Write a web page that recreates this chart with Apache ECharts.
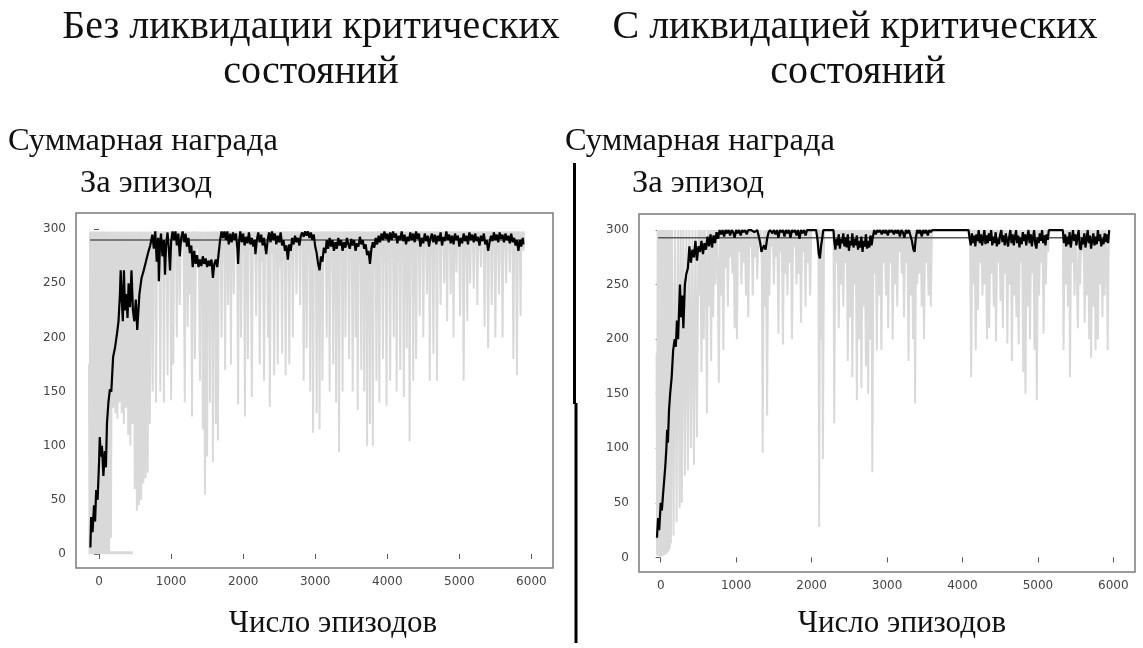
<!DOCTYPE html>
<html><head><meta charset="utf-8">
<script src="https://cdn.jsdelivr.net/npm/echarts@6/dist/echarts.min.js"></script>
<style>html,body{margin:0;padding:0;background:#fff}#c{width:1143px;height:648px}</style>
</head><body><div id="c"></div>
<script>
// ---------- tick labels ----------
const xTicks = [0, 1000, 2000, 3000, 4000, 5000, 6000];
const yTicks = [0, 50, 100, 150, 200, 250, 300];

// ---------- texts ----------
const titleL = ['Без ликвидации критических', 'состояний'];
const titleR = ['С ликвидацией критических', 'состояний'];
const yName = ['Суммарная награда', 'За эпизод'];
const xName = 'Число эпизодов';

// ---------- left panel: raw reward per episode [episode, reward] ----------
const rawL = [
[-140,175],[-132,0],[-124,298],[-116,0],[-108,298],[-100,0],[-92,298],[-84,2],[-76,298],[-68,0],[-60,298],[-52,1],[-44,298],[-36,0],[-28,298],[-20,0],[-12,298],[-4,2],[4,298],[12,0],[20,298],[28,0],[36,298],[44,1],[52,298],[60,0],[68,298],[76,0],[84,298],[92,2],[100,298],[108,0],[116,298],[124,0],[132,298],[140,1],[150,298],
[165,15],[180,298],[195,135],[210,298],[225,130],[240,298],[255,125],[270,298],[285,140],[300,298],[315,130],[330,298],[345,120],[360,298],[375,135],[390,298],[405,110],[420,298],[435,100],[450,298],[465,120],[480,298],
[495,60],[510,298],[525,40],[540,298],[555,45],[570,298],[585,50],[600,298],[615,65],[630,298],[645,70],[660,298],[675,75],[690,298],[705,120],[720,298],
[733,280],[745,150],[757,298],[768,282],[779,298],[790,140],[805,298],[820,275],[835,298],[850,150],[862,298],[875,285],[888,298],[900,140],[912,298],[925,272],[937,298],[950,165],[962,298],[975,280],[987,298],[1000,142],[1015,298],[1030,175],[1042,298],[1055,284],[1067,298],[1080,200],[1090,298],[1100,276],[1110,298],[1120,230],[1137,298],[1155,286],[1172,298],[1190,140],[1200,298],[1210,280],[1220,298],[1230,210],[1245,298],[1260,240],[1275,298],[1290,127],[1300,298],[1310,275],[1320,298],[1330,180],[1347,298],[1365,282],[1382,298],[1400,160],[1410,298],[1420,255],[1430,298],[1440,115],[1455,298],[1470,55],[1485,298],[1500,90],[1510,298],[1520,270],[1530,298],[1540,140],[1550,298],[1560,230],[1570,298],[1580,85],[1590,298],[1600,275],[1610,298],[1620,120],[1635,298],[1650,105],[1662,298],[1675,280],[1687,298],[1700,200],[1712,298],[1725,285],[1737,298],[1750,170],[1760,298],[1770,278],[1780,298],[1790,230],[1800,298],[1810,286],[1820,298],[1830,175],[1840,298],[1850,280],[1860,298],[1870,240],[1885,298],[1900,284],[1915,298],[1930,138],[1940,298],[1950,276],[1960,298],[1970,200],[1985,298],[2000,280],[2012,298],[2025,127],[2035,298],[2045,275],[2055,298],[2065,180],[2077,298],[2090,284],[2105,298],[2120,145],[2135,298],[2150,278],[2165,298],[2180,220],[2192,298],[2205,286],[2217,298],[2230,175],[2245,298],[2260,270],[2275,298],[2290,160],[2305,298],[2320,282],[2332,298],[2345,200],[2358,298],[2370,136],[2385,298],[2400,278],[2415,298],[2430,165],[2442,298],[2455,272],[2467,298],[2480,175],[2495,298],[2510,265],[2525,298],[2540,185],[2552,298],[2565,280],[2577,298],[2590,165],[2602,298],[2615,276],[2627,298],[2640,175],[2652,298],[2665,284],[2677,298],[2690,200],[2702,298],[2715,286],[2727,298],[2740,240],[2752,298],[2765,288],[2777,298],[2790,230],[2802,298],[2815,282],[2827,298],[2840,160],[2850,298],[2860,270],[2870,298],[2880,190],[2892,298],[2905,280],[2917,298],[2930,150],[2940,298],[2950,265],[2960,298],[2970,112],[2982,298],[2995,275],[3007,298],[3020,130],[3030,298],[3040,255],[3050,298],[3060,115],[3070,298],[3080,280],[3090,298],[3100,160],[3115,298],[3130,284],[3145,298],[3160,200],[3170,298],[3180,282],[3190,298],[3200,150],[3212,298],[3225,272],[3237,298],[3250,175],[3260,298],[3270,278],[3280,298],[3290,140],[3300,298],[3310,262],[3320,298],[3330,94],[3342,298],[3355,280],[3367,298],[3380,150],[3390,298],[3400,270],[3410,298],[3420,200],[3432,298],[3445,285],[3457,298],[3470,180],[3482,298],[3495,272],[3507,298],[3520,150],[3530,298],[3540,280],[3550,298],[3560,200],[3568,298],[3575,283],[3582,298],[3590,133],[3602,298],[3615,268],[3627,298],[3640,170],[3650,298],[3660,280],[3670,298],[3680,150],[3690,298],[3700,262],[3710,298],[3720,100],[3730,298],[3740,245],[3750,298],[3760,120],[3770,298],[3780,275],[3790,298],[3800,100],[3812,298],[3825,265],[3837,298],[3850,160],[3860,298],[3870,282],[3880,298],[3890,140],[3902,298],[3915,276],[3927,298],[3940,180],[3952,298],[3965,270],[3977,298],[3990,137],[4002,298],[4015,282],[4027,298],[4040,160],[4052,298],[4065,285],[4077,298],[4090,200],[4100,298],[4110,276],[4120,298],[4130,150],[4142,298],[4155,270],[4167,298],[4180,170],[4192,298],[4205,286],[4217,298],[4230,145],[4240,298],[4250,268],[4260,298],[4270,190],[4280,298],[4290,282],[4300,298],[4310,104],[4322,298],[4335,272],[4347,298],[4360,160],[4370,298],[4380,284],[4390,298],[4400,180],[4412,298],[4425,280],[4437,298],[4450,220],[4462,298],[4475,287],[4487,298],[4500,200],[4512,298],[4525,283],[4537,298],[4550,240],[4560,298],[4570,286],[4580,298],[4590,160],[4602,298],[4615,276],[4627,298],[4640,185],[4652,298],[4665,282],[4677,298],[4690,160],[4702,298],[4715,285],[4727,298],[4740,230],[4752,298],[4765,287],[4777,298],[4790,250],[4800,298],[4810,288],[4820,298],[4830,215],[4842,298],[4855,282],[4867,298],[4880,240],[4890,298],[4900,286],[4910,298],[4920,200],[4930,298],[4940,280],[4950,298],[4960,260],[4972,298],[4985,288],[4997,298],[5010,220],[5022,298],[5035,283],[5047,298],[5060,160],[5072,298],[5085,276],[5097,298],[5110,215],[5120,298],[5130,286],[5140,298],[5150,250],[5162,298],[5175,288],[5187,298],[5200,245],[5212,298],[5225,284],[5237,298],[5250,230],[5262,298],[5275,282],[5287,298],[5300,265],[5312,298],[5325,289],[5337,298],[5350,210],[5362,298],[5375,278],[5387,298],[5400,190],[5412,298],[5425,284],[5437,298],[5450,230],[5462,298],[5475,287],[5487,298],[5500,200],[5512,298],[5525,280],[5537,298],[5550,240],[5562,298],[5575,288],[5587,298],[5600,200],[5612,298],[5625,282],[5637,298],[5650,250],[5662,298],[5675,289],[5687,298],[5700,260],[5712,298],[5725,285],[5737,298],[5750,180],[5762,298],[5775,276],[5787,298],[5800,165],[5812,298],[5825,282],[5837,298],[5850,220],[5860,298],[5870,286],[5880,298],[5890,280],[5900,298]
];
// second raw trace stuck at zero reward early in training
const rawStuckL = [[-125,1],[470,1]];
// moving average
const meanL = [
[-120,6],[-110,34],[-90,20],[-70,45],[-55,30],[-40,59],[-20,50],[0,85],[10,108],[25,90],[40,100],[60,72],[80,95],[95,80],[110,121],[130,140],[150,152],[170,150],[195,182],[220,190],[250,204],[270,215],[290,240],[300,262],[315,235],[330,215],[345,262],[360,225],[380,240],[395,218],[410,250],[430,228],[450,262],[470,225],[490,215],[510,235],[530,207],[560,240],[590,255],[620,262],[650,270],[680,278],[710,285],[740,295],
[760,282],[780,298],[800,270],[820,292],[830,252],[845,285],[860,296],[880,275],[900,290],[915,258],[930,285],[950,297],[970,280],[985,262],[1000,288],[1020,298],[1040,290],[1060,298],[1080,285],[1100,296],[1120,275],[1140,292],[1160,298],[1180,288],[1200,296],[1220,284],[1240,292],[1260,278],[1280,285],[1300,265],[1320,280],[1340,268],[1360,276],[1380,265],[1400,272],[1420,266],[1440,275],[1460,268],[1480,273],[1500,265],[1520,271],[1540,266],[1560,272],[1580,255],[1600,268],[1620,272],[1640,265],[1660,278],[1680,290],[1700,298],[1720,292],[1740,298],[1760,290],[1780,298],[1800,286],[1820,296],[1840,288],[1860,297],[1880,290],[1900,296],[1920,282],[1930,268],[1945,290],[1960,298],[1980,288],[2000,296],[2020,285],[2040,293],[2060,287],[2080,297],[2100,286],[2120,292],[2140,284],[2160,290],[2170,277],[2190,290],[2210,297],[2230,288],[2250,295],[2270,285],[2290,292],[2310,282],[2320,277],[2340,290],[2360,297],[2380,288],[2400,298],[2420,290],[2440,296],[2460,286],[2480,294],[2500,288],[2520,297],[2540,285],[2560,290],[2580,280],[2600,285],[2620,272],[2640,286],[2660,280],[2680,292],[2700,286],[2720,294],[2740,288],[2760,292],[2780,285],[2800,294],[2820,297],[2840,293],[2860,298],[2880,294],[2900,298],[2920,292],[2940,297],[2960,290],[2980,295],[3000,284],[3020,278],[3040,268],[3060,262],[3080,275],[3100,270],[3120,283],[3140,278],[3160,290],[3180,282],[3200,292],[3220,284],[3240,290],[3260,280],[3280,288],[3300,282],[3320,292],[3340,285],[3360,290],[3380,280],[3400,288],[3420,283],[3440,292],[3460,286],[3480,282],[3500,291],[3520,285],[3540,290],[3560,280],[3580,287],[3600,284],[3620,293],[3640,286],[3660,290],[3680,282],[3700,286],[3720,276],[3740,280],[3760,268],[3780,282],[3800,288],[3820,283],[3840,292],[3860,286],[3880,294],[3900,288],[3920,296],[3940,290],[3960,298],[3980,291],[4000,296],[4020,288],[4040,297],[4060,290],[4080,298],[4100,292],[4120,296],[4140,287],[4160,294],[4180,290],[4200,298],[4220,289],[4240,295],[4260,286],[4280,293],[4300,289],[4320,297],[4340,290],[4360,296],[4380,288],[4400,298],[4420,291],[4440,296],[4460,284],[4480,292],[4500,287],[4520,296],[4540,289],[4560,294],[4580,284],[4600,292],[4620,296],[4640,288],[4660,295],[4680,286],[4700,294],[4720,289],[4740,297],[4760,285],[4780,293],[4800,289],[4820,298],[4840,290],[4860,295],[4880,287],[4900,294],[4920,286],[4940,296],[4960,290],[4980,294],[5000,284],[5020,292],[5040,287],[5060,296],[5080,289],[5100,294],[5120,286],[5140,297],[5160,290],[5180,295],[5200,288],[5220,296],[5240,289],[5260,293],[5280,285],[5300,294],[5320,289],[5340,296],[5360,286],[5380,290],[5400,280],[5420,288],[5440,294],[5460,289],[5480,297],[5500,290],[5520,295],[5540,288],[5560,297],[5580,291],[5600,295],[5620,288],[5640,296],[5660,290],[5680,294],[5700,287],[5720,296],[5740,288],[5760,292],[5780,285],[5800,290],[5820,280],[5840,290],[5860,284],[5880,292],[5890,286]
];
const refL = [[-125,290],[5900,290]];

// ---------- right panel ----------
const rawR = [
[-55,187],[-48,2],[-41,300],[-34,1],[-27,300],[-20,2],[-13,300],[-6,0],[1,300],[8,2],[15,300],[22,1],[29,300],[36,3],[43,300],[50,2],[57,300],[64,4],[71,300],[78,3],[85,300],[92,5],[99,300],[106,6],[113,300],[120,8],[128,300],[135,13],[150,300],[170,20],[190,300],[210,32],[230,300],[250,45],[265,300],[280,50],[300,300],[320,75],[340,300],[360,80],[380,300],[400,100],[420,300],[440,85],[460,300],[480,110],[500,300],
[510,240],[525,300],[540,170],[555,300],[570,200],[585,300],[600,260],[612,132],[625,300],[640,230],[655,300],[668,180],[680,300],[695,220],[710,300],[725,250],[740,300],[755,270],[770,160],[785,300],[800,240],[815,300],[830,190],[845,300],[860,265],[875,300],[890,230],[905,300],[920,275],[935,300],[950,260],[965,300],[980,210],[995,300],[1010,200],[1025,300],[1040,280],[1055,300],[1070,250],[1085,300],[1100,270],[1115,300],[1130,240],[1145,300],[1160,220],[1175,300],[1190,285],[1205,300],[1220,240],[1235,300],[1250,275],[1265,300],[1280,255],[1295,300],[1310,285],[1325,300],[1340,270],[1352,96],[1365,300],[1380,230],[1395,300],[1410,130],[1425,300],[1440,240],[1455,300],[1470,285],[1485,300],[1500,250],[1515,300],[1530,275],[1545,300],[1560,205],[1575,300],[1590,280],[1605,300],[1620,195],[1635,300],[1650,260],[1665,300],[1680,240],[1695,300],[1710,270],[1725,300],[1740,200],[1755,300],[1770,285],[1785,300],[1800,250],[1815,300],[1830,260],[1845,300],[1860,215],[1875,300],[1890,280],[1905,300],[1920,230],[1935,300],[1950,270],[1965,300],[1980,240],[1995,300],[2090,300],[2100,28],[2112,300],[2125,200],[2138,300],[2150,90],[2165,300],[2290,300],[2300,123],[2315,300],[2330,270],[2345,300],[2360,210],[2375,300],[2390,250],[2405,300],[2420,230],[2435,300],[2450,270],[2465,300],[2480,180],[2495,300],[2510,220],[2525,300],[2540,165],[2555,300],[2570,250],[2585,300],[2600,144],[2615,300],[2630,200],[2645,300],[2660,155],[2675,300],[2690,230],[2705,300],[2720,175],[2735,300],[2750,150],[2765,300],[2780,200],[2795,300],[2805,78],[2820,300],[2835,260],[2850,300],[2865,190],[2880,300],[2895,240],[2910,300],[2925,190],[2940,300],[2955,270],[2970,300],[2985,240],[3000,300],[3015,210],[3030,300],[3045,270],[3060,300],[3075,200],[3090,300],[3105,250],[3120,300],[3135,230],[3150,300],[3165,280],[3180,300],[3195,260],[3210,300],[3225,220],[3240,300],[3255,270],[3270,300],[3285,180],[3300,300],[3315,240],[3330,300],[3345,200],[3360,300],[3372,141],[3385,300],[3400,250],[3415,300],[3430,260],[3445,300],[3460,230],[3475,300],[3490,200],[3505,300],[3520,270],[3535,300],[3550,240],[3565,300],[3580,230],[3595,300],[3610,300],[4100,300],[4115,165],[4130,300],[4145,250],[4160,300],[4175,190],[4190,300],[4205,227],[4220,300],[4235,270],[4250,300],[4265,240],[4280,300],[4295,250],[4310,300],[4325,200],[4340,300],[4355,210],[4370,300],[4385,260],[4400,300],[4415,230],[4430,300],[4445,198],[4460,300],[4475,270],[4490,300],[4505,235],[4520,300],[4535,210],[4550,300],[4565,260],[4580,300],[4595,196],[4610,300],[4625,250],[4640,300],[4655,180],[4670,300],[4685,240],[4700,300],[4715,220],[4730,300],[4745,195],[4760,300],[4775,270],[4790,300],[4805,170],[4820,300],[4835,150],[4850,300],[4865,230],[4880,300],[4895,200],[4910,300],[4925,260],[4940,300],[4955,190],[4970,300],[4985,144],[5000,300],[5015,240],[5030,300],[5045,270],[5060,300],[5075,205],[5090,300],[5105,250],[5120,300],[5135,280],[5150,300],[5330,300],[5340,190],[5355,300],[5370,250],[5385,300],[5400,230],[5415,300],[5425,165],[5440,300],[5455,270],[5470,300],[5485,240],[5500,300],[5515,260],[5530,210],[5545,300],[5560,250],[5575,300],[5590,280],[5605,300],[5620,215],[5635,300],[5650,240],[5665,300],[5680,200],[5695,300],[5705,183],[5720,300],[5735,230],[5750,300],[5765,190],[5780,300],[5795,200],[5810,300],[5825,250],[5840,300],[5855,220],[5870,300],[5885,240],[5900,300],[5915,270],[5925,190],[5940,300]
];
const meanR = [
[-50,18],[-35,36],[-20,25],[0,50],[15,43],[30,57],[45,70],[60,83],[75,100],[85,117],[95,105],[110,135],[125,150],[145,165],[165,190],[185,200],[200,193],[215,217],[230,200],[255,250],[270,220],[285,240],[300,210],[320,250],[340,260],[360,265],[380,285],[400,270],[420,282],[440,275],[460,290],[480,272],[500,285],[520,280],[540,290],[560,278],[580,288],[600,282],[620,294],[640,285],[660,296],[680,284],
[700,295],[720,288],[740,298],[760,292],[780,300],[800,296],[820,300],[840,294],[860,300],[880,297],[900,300],[920,295],[940,300],[960,298],[980,293],[1000,300],[1020,297],[1040,300],[1060,295],[1080,300],[1100,298],[1120,300],[1140,296],[1160,300],[1200,300],[1240,298],[1280,300],[1300,294],[1320,288],[1335,280],[1350,283],[1370,286],[1390,282],[1410,292],[1430,298],[1450,300],[1480,297],[1500,300],[1520,296],[1540,300],[1560,293],[1580,300],[1600,298],[1620,300],[1640,294],[1660,300],[1680,297],[1700,300],[1720,293],[1740,300],[1760,298],[1780,300],[1800,295],[1820,300],[1840,292],[1860,300],[1880,297],[1900,300],[1920,295],[1940,300],[1980,300],[2060,300],[2080,290],[2095,278],[2110,274],[2125,285],[2140,292],[2155,300],[2290,300],[2300,290],[2315,282],[2330,292],[2345,286],[2360,296],[2375,283],[2390,292],[2405,288],[2420,297],[2435,285],[2450,293],[2465,284],[2480,296],[2495,281],[2510,290],[2525,286],[2540,297],[2555,284],[2570,292],[2585,286],[2600,295],[2615,282],[2630,290],[2645,284],[2660,294],[2675,280],[2690,290],[2705,285],[2720,296],[2735,283],[2750,290],[2765,284],[2780,295],[2795,286],[2810,293],[2830,300],[2850,296],[2870,300],[2890,298],[2910,300],[2930,296],[2950,300],[2970,297],[2990,300],[3010,295],[3030,300],[3050,298],[3070,300],[3090,296],[3110,300],[3130,297],[3150,300],[3170,294],[3190,300],[3210,298],[3230,293],[3250,300],[3270,297],[3290,300],[3310,295],[3330,290],[3350,282],[3365,280],[3380,292],[3400,300],[3420,297],[3440,300],[3460,294],[3480,300],[3500,297],[3520,300],[3540,295],[3560,300],[3580,298],[3600,300],[4080,300],
[4095,292],[4110,286],[4125,297],[4140,288],[4155,295],[4170,285],[4185,296],[4200,290],[4215,300],[4230,288],[4245,296],[4260,286],[4275,293],[4290,300],[4305,287],[4320,295],[4335,288],[4350,297],[4365,290],[4380,300],[4395,286],[4410,294],[4425,288],[4440,298],[4455,285],[4470,292],[4485,287],[4500,296],[4515,300],[4530,289],[4545,295],[4560,286],[4575,297],[4590,290],[4605,285],[4620,294],[4635,300],[4650,288],[4665,296],[4680,286],[4695,293],[4710,300],[4725,288],[4740,295],[4755,284],[4770,293],[4785,287],[4800,298],[4815,290],[4830,296],[4845,286],[4860,294],[4875,300],[4890,288],[4905,296],[4920,285],[4935,293],[4950,300],[4965,287],[4980,283],[4995,293],[5010,288],[5025,297],[5040,290],[5055,300],[5070,288],[5085,295],[5100,286],[5115,296],[5130,291],[5145,300],[5160,300],[5330,300],
[5345,288],[5360,296],[5375,285],[5390,294],[5405,287],[5420,298],[5435,284],[5450,292],[5465,300],[5480,290],[5495,296],[5510,286],[5525,294],[5540,300],[5555,284],[5570,282],[5585,293],[5600,287],[5615,297],[5630,284],[5645,292],[5660,300],[5675,288],[5690,295],[5705,283],[5720,290],[5735,297],[5750,286],[5765,294],[5780,287],[5795,300],[5810,290],[5825,296],[5840,285],[5855,292],[5870,287],[5885,297],[5900,289],[5915,296],[5930,288],[5945,300]
];
const refR = [[-35,293],[5945,293]];

// ---------- chart ----------
const chart = echarts.init(document.getElementById('c'), null, {renderer: 'canvas'});
const serif = '"Liberation Serif", "Times New Roman", serif';
const textCol = '#111';

function xAxisCfg(g, min, max) {
  return {
    gridIndex: g, type: 'value', min: min, max: max,
    axisLine: {show: false},
    axisTick: {show: true, customValues: xTicks, length: 5, lineStyle: {color: '#555', width: 1}},
    axisLabel: {customValues: xTicks, formatter: function (v) { return String(v); },
                color: '#444', fontSize: 12, fontFamily: 'DejaVu Sans', margin: 8},
    splitLine: {show: false}
  };
}
function yAxisCfg(g, min, max) {
  return {
    gridIndex: g, type: 'value', min: min, max: max,
    axisLine: {show: false},
    axisTick: {show: true, customValues: yTicks, length: 5, lineStyle: {color: '#555', width: 1}},
    axisLabel: {customValues: yTicks, formatter: function (v) { return String(v); },
                color: '#444', fontSize: 12, fontFamily: 'DejaVu Sans', margin: 10},
    splitLine: {show: false}
  };
}
function lineSeries(g, data, color, width, z) {
  return {
    type: 'line', xAxisIndex: g, yAxisIndex: g, data: data,
    symbol: 'none', showSymbol: false, silent: true, z: z,
    lineStyle: {color: color, width: width, join: 'bevel'},
    animation: false
  };
}
function txt(text, x, y, size, align) {
  return {
    type: 'text', x: x, y: y, silent: true,
    style: {text: text, fill: textCol, font: size + 'px ' + serif,
            align: align, textAlign: align, verticalAlign: 'middle', textVerticalAlign: 'middle'}
  };
}

const option = {
  backgroundColor: '#ffffff',
  animation: false,
  grid: [
    {left: 76, top: 213, width: 477, height: 355, show: true, borderColor: '#7a7a7a', borderWidth: 1.5, backgroundColor: 'transparent'},
    {left: 639, top: 214, width: 496, height: 358, show: true, borderColor: '#7a7a7a', borderWidth: 1.5, backgroundColor: 'transparent'}
  ],
  xAxis: [xAxisCfg(0, -320, 6300), xAxisCfg(1, -288, 6287)],
  yAxis: [yAxisCfg(0, -13, 315), yAxisCfg(1, -13.4, 314.7)],
  series: [
    lineSeries(0, rawL, '#d9d9d9', 2, 1),
    lineSeries(0, rawStuckL, '#d9d9d9', 3, 1),
    lineSeries(0, refL, '#5a5a5a', 1.5, 2),
    lineSeries(0, meanL, '#000000', 2.2, 3),
    lineSeries(1, rawR, '#d9d9d9', 2, 1),
    lineSeries(1, refR, '#5a5a5a', 1.5, 2),
    lineSeries(1, meanR, '#000000', 2.2, 3)
  ],
  graphic: {elements: [
    txt(titleL[0], 311, 27, 40, 'center'),
    txt(titleL[1], 311, 72, 40, 'center'),
    txt(titleR[0], 855, 27, 40, 'center'),
    txt(titleR[1], 858, 72, 40, 'center'),
    txt(yName[0], 8, 141, 32.5, 'left'),
    txt(yName[1], 80, 183, 32.5, 'left'),
    txt(yName[0], 565, 141, 32.5, 'left'),
    txt(yName[1], 632, 183, 32.5, 'left'),
    txt(xName, 333, 624, 31, 'center'),
    txt(xName, 902, 624, 31, 'center'),
    {type: 'line', silent: true, shape: {x1: 574.5, y1: 163, x2: 574.5, y2: 404}, style: {stroke: '#000', lineWidth: 3}},
    {type: 'line', silent: true, shape: {x1: 576, y1: 403, x2: 576, y2: 643}, style: {stroke: '#000', lineWidth: 3}}
  ]}
};
chart.setOption(option);
</script>
</body></html>
